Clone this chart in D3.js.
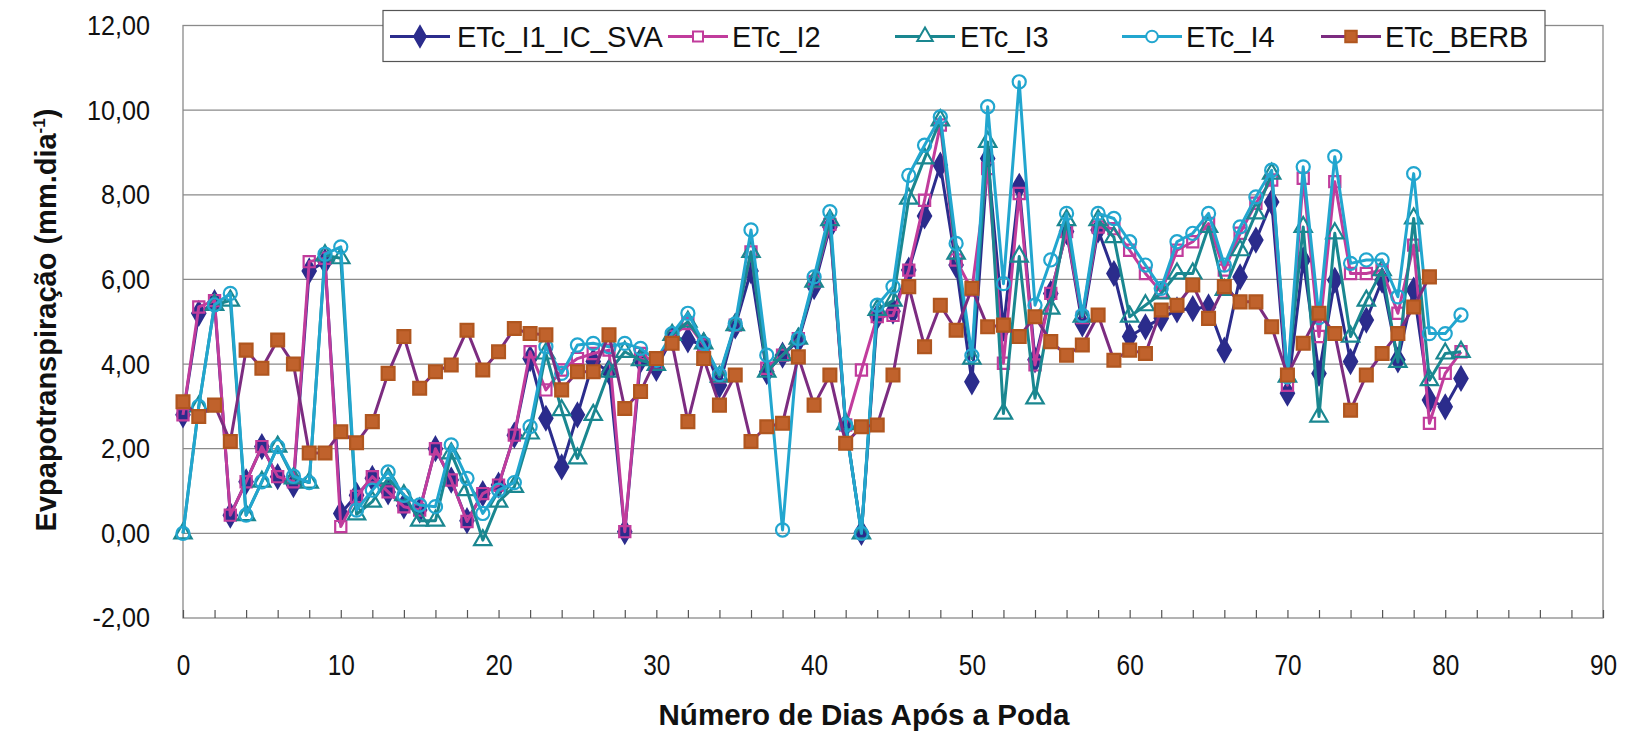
<!DOCTYPE html>
<html>
<head>
<meta charset="utf-8">
<script src="https://cdn.jsdelivr.net/npm/d3@7"></script>
<style>
  body { margin: 0; background: #fff; }
  svg { display: block; font-family: "Liberation Sans", Arial, sans-serif; }
</style>
</head>
<body>
<svg id="chart" width="1639" height="734"></svg>
<script>
// Daily crop evapotranspiration (mm/day) after pruning, per treatment
const etcI1 = [2.8, 5.2, 5.45, 0.43, 1.22, 2.05, 1.34, 1.15, 6.2, 6.42,
  0.47, 0.9, 1.3, 0.98, 0.65, 0.55, 2.0, 1.26, 0.3, 0.94,
  1.14, 2.32, 4.13, 2.72, 1.57, 2.8, 4.06, 3.82, 0.04, 4.09,
  3.9, 4.62, 4.57, 4.45, 3.5, 4.9, 6.2, 3.82, 4.21, 4.55,
  5.83, 7.24, 2.55, 0.02, 5.12, 5.25, 6.22, 7.5, 8.7, 6.34,
  3.58, 8.86, 4.85, 8.2, 4.1, 5.67, 7.13, 4.95, 7.17, 6.14,
  4.65, 4.88, 5.08, 5.28, 5.31, 5.35, 4.33, 6.06, 6.93, 7.83,
  3.31, 6.46, 3.78, 5.98, 4.06, 5.04, 5.98, 4.1, 5.75, 3.15,
  2.99, 3.66];

const etcI2 = [2.8, 5.35, 5.5, 0.43, 1.22, 2.05, 1.34, 1.22, 6.42, 6.5,
  0.16, 0.87, 1.34, 0.98, 0.63, 0.55, 2.0, 1.26, 0.28, 0.94,
  1.14, 2.32, 4.29, 3.39, 3.86, 4.13, 4.25, 4.33, 0.04, 4.25,
  4.0, 4.65, 4.96, 4.45, 3.7, 4.92, 6.65, 3.9, 4.21, 4.6,
  5.95, 7.3, 2.56, 3.86, 5.12, 5.15, 6.22, 7.87, 9.65, 6.46,
  5.75, 8.62, 4.02, 8.03, 3.98, 5.67, 7.13, 5.1, 7.24, 7.2,
  6.69, 6.14, 5.7, 6.69, 6.89, 7.32, 6.22, 7.09, 7.8, 8.35,
  3.5, 8.39, 4.65, 8.31, 6.14, 6.14, 6.22, 5.2, 6.81, 2.6,
  3.78, 4.29];

const etcI3 = [0.0, 3.0, 5.4, 5.5, 0.43, 1.22, 2.05, 1.3, 1.2, 6.57,
  6.5, 0.45, 0.75, 1.3, 0.9, 0.3, 0.3, 1.89, 1.02, -0.16,
  0.75, 1.1, 2.36, 4.25, 2.91, 1.77, 2.8, 3.82, 4.29, 4.09,
  3.98, 4.69, 5.0, 4.49, 3.7, 4.92, 6.65, 3.82, 4.21, 4.6,
  5.95, 7.4, 2.58, 0.0, 5.28, 5.5, 7.91, 8.86, 9.76, 6.61,
  4.13, 9.25, 2.83, 6.54, 3.19, 5.31, 7.4, 5.12, 7.4, 7.0,
  5.12, 5.39, 5.67, 6.14, 6.14, 7.24, 5.75, 6.69, 7.56, 8.5,
  3.7, 7.24, 2.76, 7.09, 4.65, 5.5, 6.22, 4.05, 7.44, 3.62,
  4.25, 4.29];

const etcI4 = [0.0, 3.0, 5.4, 5.67, 0.43, 1.22, 2.05, 1.35, 1.2, 6.6,
  6.77, 0.55, 1.02, 1.45, 0.9, 0.67, 0.63, 2.09, 1.3, 0.47,
  1.02, 1.2, 2.52, 4.41, 3.78, 4.45, 4.49, 4.41, 4.49, 4.37,
  4.09, 4.72, 5.2, 4.49, 3.75, 4.95, 7.17, 4.21, 0.08, 4.6,
  6.06, 7.6, 2.56, 0.0, 5.39, 5.83, 8.46, 9.17, 9.84, 6.85,
  4.2, 10.08, 5.9, 10.67, 5.39, 6.46, 7.56, 5.15, 7.56, 7.44,
  6.89, 6.34, 5.79, 6.89, 7.09, 7.56, 6.34, 7.24, 7.95, 8.58,
  3.7, 8.66, 5.1, 8.9, 6.38, 6.46, 6.46, 5.59, 8.5, 4.72,
  4.72, 5.16];

const etcBERB = [3.11, 2.76, 3.03, 2.17, 4.33, 3.9, 4.57, 4.0, 1.9, 1.9,
  2.4, 2.14, 2.64, 3.78, 4.65, 3.43, 3.82, 3.98, 4.8, 3.86,
  4.29, 4.84, 4.72, 4.69, 3.39, 3.82, 3.82, 4.69, 2.95, 3.35,
  4.13, 4.49, 2.64, 4.13, 3.03, 3.74, 2.17, 2.52, 2.6, 4.17,
  3.03, 3.74, 2.13, 2.52, 2.56, 3.74, 5.83, 4.41, 5.39, 4.8,
  5.79, 4.88, 4.92, 4.65, 5.12, 4.53, 4.21, 4.45, 5.16, 4.09,
  4.33, 4.25, 5.28, 5.39, 5.87, 5.08, 5.83, 5.47, 5.47, 4.88,
  3.74, 4.49, 5.2, 4.72, 2.91, 3.74, 4.25, 4.72, 5.35, 6.06];

const seriesNames = ["ETc_I1_IC_SVA", "ETc_I2", "ETc_I3", "ETc_I4", "ETc_BERB"];
const yTicks = [-2, 0, 2, 4, 6, 8, 10, 12];
const xTicks = [0, 10, 20, 30, 40, 50, 60, 70, 80, 90];
const xMinorTicks = d3.range(0, 91, 2);

const series = [
  { name: seriesNames[0], values: etcI1, line: "#2b2c8c", marker: d3.symbolDiamond, size: 150, fill: "#2b2c8c", stroke: "#2b2c8c" },
  { name: seriesNames[1], values: etcI2, line: "#c13c9c", marker: d3.symbolSquare, size: 125, fill: "none", stroke: "#c13c9c" },
  { name: seriesNames[2], values: etcI3, line: "#1a8790", marker: d3.symbolTriangle, size: 130, fill: "none", stroke: "#1a8790" },
  { name: seriesNames[3], values: etcI4, line: "#22a6cf", marker: d3.symbolCircle, size: 135, fill: "none", stroke: "#22a6cf" },
  { name: seriesNames[4], values: etcBERB, line: "#7c2c80", marker: d3.symbolSquare, size: 165, fill: "#c0622c", stroke: "#b0561f" }
];

const svg = d3.select("#chart");
const x = d3.scaleLinear().domain([0, 90]).range([183, 1603]);
const y = d3.scaleLinear().domain([-2, 12]).range([618, 25.5]);

const locale = d3.formatLocale({ decimal: ",", thousands: ".", grouping: [3], currency: ["", ""], minus: "-" });
const fmt = locale.format(".2f");

// horizontal gridlines
svg.append("g")
  .selectAll("line")
  .data(yTicks.filter(v => v > -2 && v < 12))
  .join("line")
  .attr("x1", x(0)).attr("x2", x(90))
  .attr("y1", d => y(d)).attr("y2", d => y(d))
  .attr("stroke", "#8a8a8a").attr("stroke-width", 1.3);

// plot frame
svg.append("rect")
  .attr("x", x(0)).attr("y", y(12))
  .attr("width", x(90) - x(0)).attr("height", y(-2) - y(12))
  .attr("fill", "none").attr("stroke", "#8a8a8a").attr("stroke-width", 1.3);

// y axis labels
const yAxis = svg.append("g")
  .attr("transform", `translate(${x(0)},0)`)
  .call(d3.axisLeft(y).tickValues(yTicks).tickFormat(fmt).tickSize(0));
yAxis.select(".domain").remove();
yAxis.selectAll("text")
  .attr("x", 0)
  .attr("transform", "translate(-33,0) scale(0.9,1)")
  .attr("font-size", 28)
  .attr("font-family", "'Liberation Sans', Arial, sans-serif")
  .attr("fill", "#111");

// x axis minor ticks (pointing into the plot)
const xMinor = svg.append("g")
  .attr("transform", `translate(0,${y(-2)})`)
  .call(d3.axisTop(x).tickValues(xMinorTicks).tickSize(8).tickFormat(""));
xMinor.select(".domain").remove();
xMinor.selectAll("line").attr("stroke", "#555").attr("stroke-width", 1.2);

// x axis labels
const xAxis = svg.append("g")
  .attr("transform", `translate(0,${y(-2)})`)
  .call(d3.axisBottom(x).tickValues(xTicks).tickFormat(d3.format("d")).tickSize(0));
xAxis.select(".domain").remove();
xAxis.selectAll("text")
  .attr("y", 57).attr("dy", 0)
  .attr("transform", "scale(0.84,1)")
  .attr("font-size", 29)
  .attr("font-family", "'Liberation Sans', Arial, sans-serif")
  .attr("fill", "#111");

// series lines and markers
const line = d3.line()
  .x((d, i) => x(i))
  .y(d => y(d));

series.forEach(s => {
  const g = svg.append("g");
  g.append("path")
    .datum(s.values)
    .attr("d", line)
    .attr("fill", "none")
    .attr("stroke", s.line)
    .attr("stroke-width", 3)
    .attr("stroke-linejoin", "round");
  g.selectAll("path.marker")
    .data(s.values)
    .join("path")
    .attr("class", "marker")
    .attr("transform", (d, i) => `translate(${x(i)},${y(d)})`)
    .attr("d", d3.symbol().type(s.marker).size(s.size))
    .attr("fill", s.fill)
    .attr("stroke", s.stroke)
    .attr("stroke-width", 2.2);
});

// legend
const legend = svg.append("g");
legend.append("rect")
  .attr("x", 383).attr("y", 10.5)
  .attr("width", 1162).attr("height", 51)
  .attr("fill", "#fff").attr("stroke", "#555").attr("stroke-width", 1.2);

const legendSample = [420, 698, 925, 1152, 1351];
const legendText = [457, 732, 960, 1186, 1385];
series.forEach((s, i) => {
  const cx = legendSample[i], cy = 36.5;
  legend.append("line")
    .attr("x1", cx - 30).attr("x2", cx + 30)
    .attr("y1", cy).attr("y2", cy)
    .attr("stroke", s.line).attr("stroke-width", 3);
  legend.append("path")
    .attr("transform", `translate(${cx},${cy})`)
    .attr("d", d3.symbol().type(s.marker).size(s.size * 0.8))
    .attr("fill", s.fill === "none" ? "#fff" : s.fill)
    .attr("stroke", s.stroke).attr("stroke-width", 2);
  legend.append("text")
    .attr("x", legendText[i]).attr("y", 47)
    .attr("font-size", 29)
    .attr("fill", "#111")
    .text(s.name);
});

// axis titles
svg.append("text")
  .attr("x", 864).attr("y", 725)
  .attr("text-anchor", "middle")
  .attr("font-size", 30).attr("font-weight", "bold")
  .attr("textLength", 411).attr("lengthAdjust", "spacingAndGlyphs")
  .attr("fill", "#111")
  .text("Número de Dias Após a Poda");

const yTitle = svg.append("text")
  .attr("transform", "translate(56,320) rotate(-90)")
  .attr("text-anchor", "middle")
  .attr("font-size", 29).attr("font-weight", "bold")
  .attr("fill", "#111");
yTitle.append("tspan").text("Evpapotranspiração (mm.dia");
yTitle.append("tspan").attr("font-size", 17).attr("dy", -11).text("-1");
yTitle.append("tspan").attr("dy", 11).text(")");
</script>
</body>
</html>
